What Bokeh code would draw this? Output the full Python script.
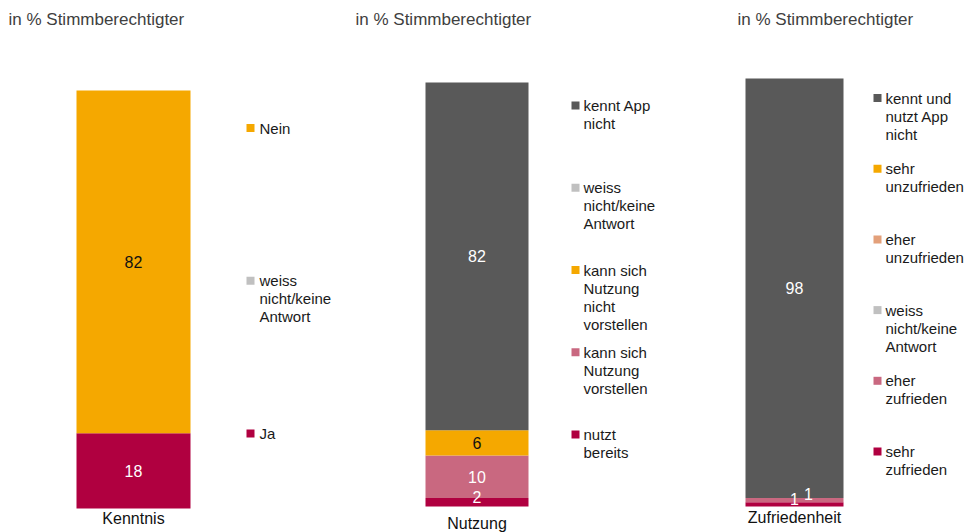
from bokeh.plotting import figure
from bokeh.models import Range1d
from bokeh.embed import file_html
from bokeh.resources import INLINE
from bokeh.core.properties import value

# ---------------- data ----------------
title_text = "in % Stimmberechtigter"
panel_names = ["Kenntnis", "Nutzung", "Zufriedenheit"]

# stacking order: bottom -> top
kenntnis_cats = ["Ja", "weiss\nnicht/keine\nAntwort", "Nein"]
kenntnis_vals = [18, 0, 82]

nutzung_cats = ["nutzt\nbereits", "kann sich\nNutzung\nvorstellen",
                "kann sich\nNutzung\nnicht\nvorstellen",
                "weiss\nnicht/keine\nAntwort", "kennt App\nnicht"]
nutzung_vals = [2, 10, 6, 0, 82]

zufriedenheit_cats = ["sehr\nzufrieden", "eher\nzufrieden",
                      "weiss\nnicht/keine\nAntwort", "eher\nunzufrieden",
                      "sehr\nunzufrieden", "kennt und\nnutzt App\nnicht"]
zufriedenheit_vals = [1, 1, 0, 0, 0, 98]

# ---------------- styles ----------------
CRIMSON = "#B00040"
PINK = "#C96880"
ORANGE = "#F5A800"
LGRAY = "#C0C0C0"
DGRAY = "#595959"
SALMON = "#E3A07A"

kenntnis_colors = [CRIMSON, LGRAY, ORANGE]
nutzung_colors = [CRIMSON, PINK, ORANGE, LGRAY, DGRAY]
zufriedenheit_colors = [CRIMSON, PINK, LGRAY, SALMON, ORANGE, DGRAY]

FONT = value("Liberation Sans")
W, H, MARGIN = 972, 532, 0

# layout in page pixels
layout = [
    dict(left=8, bar=(76, 190), top=90, bottom=508, sq_x=246, txt_x=259,
         leg=(127.5, 433), cat_y=518, nudges={}),
    dict(left=355, bar=(425, 528), top=82, bottom=506, sq_x=571, txt_x=583,
         leg=(105, 434), cat_y=522.5, nudges={0: (0, -5)}),
    dict(left=737, bar=(745, 843), top=78, bottom=506, sq_x=873, txt_x=885,
         leg=(97.5, 451), cat_y=517, nudges={0: (0, -5), 1: (14, -6)}),
]
series = [
    (kenntnis_cats, kenntnis_vals, kenntnis_colors),
    (nutzung_cats, nutzung_vals, nutzung_colors),
    (zufriedenheit_cats, zufriedenheit_vals, zufriedenheit_colors),
]

# y ranges so that 0..100 maps onto each bar's pixel extent
ranges = []
for lay in layout:
    k = (lay["bottom"] - lay["top"]) / 100.0
    ymax = 100 + (lay["top"] - MARGIN) / k
    ymin = -(MARGIN + H - lay["bottom"]) / k
    ranges.append((ymin, ymax, k))

p = figure(width=W, height=H, x_range=Range1d(0, W),
           y_range=Range1d(ranges[0][0], ranges[0][1]),
           x_axis_type=None, y_axis_type=None, title=None,
           toolbar_location=None, output_backend="svg", min_border=0,
           outline_line_color=None, background_fill_color="white",
           border_fill_color="white")
p.grid.visible = False
p.extra_y_ranges = {"p1": Range1d(ranges[1][0], ranges[1][1]),
                    "p2": Range1d(ranges[2][0], ranges[2][1])}
range_names = ["default", "p1", "p2"]


def px(x):
    return x - MARGIN


def py(y, i):
    ymin, ymax, k = ranges[i]
    return ymax - (y - MARGIN) / k


for i, ((cats, vals, cols), lay) in enumerate(zip(series, layout)):
    rn = range_names[i]
    ymin, ymax, k = ranges[i]
    cx = px((lay["bar"][0] + lay["bar"][1]) / 2)
    bw = lay["bar"][1] - lay["bar"][0]
    bottoms, tops = [], []
    acc = 0
    for v in vals:
        bottoms.append(acc)
        acc += v
        tops.append(acc)
    p.vbar(x=[cx] * len(vals), width=bw, bottom=bottoms, top=tops,
           fill_color=cols, line_color=None, y_range_name=rn)

    # value labels
    lx, ly, lt, lc = [], [], [], []
    for j, v in enumerate(vals):
        if v == 0:
            continue
        dx, dy = lay["nudges"].get(j, (0, 0))
        lx.append(cx + dx)
        ly.append((bottoms[j] + tops[j]) / 2 - dy / k)
        lt.append(str(v))
        lc.append("#111111" if cols[j] == ORANGE else "white")
    p.text(x=lx, y=ly, text=lt, text_color=lc, text_font=FONT,
           text_font_size="16px", text_align="center",
           text_baseline="middle", y_range_name=rn)

    # category label
    p.text(x=[cx], y=[py(lay["cat_y"], i)], text=[panel_names[i]],
           text_color="#111111", text_font=FONT, text_font_size="16px",
           text_align="center", text_baseline="middle", y_range_name=rn)

    # panel title
    p.text(x=[px(lay["left"])], y=[py(18.5, i)], text=[title_text],
           text_color="#404040", text_font=FONT, text_font_size="17px",
           text_align="left", text_baseline="middle", y_range_name=rn)

    # legend (top item first)
    n = len(cats)
    y0, y1 = lay["leg"]
    step = (y1 - y0) / (n - 1)
    sx, sy, scol = [], [], []
    tx, ty, tt = [], [], []
    for r, j in enumerate(reversed(range(n))):
        cy = y0 + r * step
        sx.append(px(lay["sq_x"] + 4))
        sy.append(py(cy, i))
        scol.append(cols[j])
        for li, line in enumerate(cats[j].split("\n")):
            tx.append(px(lay["txt_x"]))
            ty.append(py(cy + li * 18, i))
            tt.append(line)
    p.rect(x=sx, y=sy, width=8, height=8 / k, fill_color=scol,
           line_color=None, y_range_name=rn)
    p.text(x=tx, y=ty, text=tt, text_color="#1a1a1a", text_font=FONT,
           text_font_size="15px", text_align="left", text_baseline="middle",
           y_range_name=rn)

open("out.html", "w").write(file_html(p, INLINE))
